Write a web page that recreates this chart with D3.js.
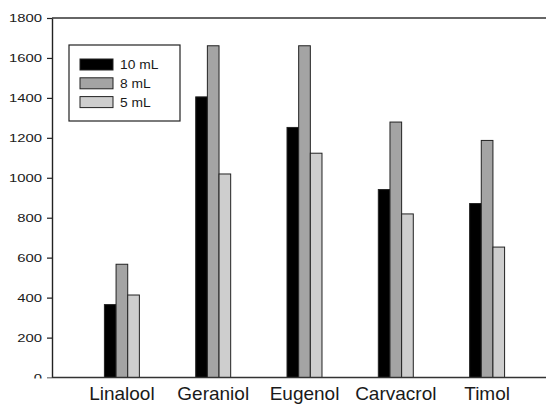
<!DOCTYPE html>
<html>
<head>
<meta charset="utf-8">
<script src="https://cdn.jsdelivr.net/npm/d3@7"></script>
<style>
  html, body { margin: 0; padding: 0; background: #fff; overflow: hidden; }
  svg { display: block; }
</style>
</head>
<body>
<div id="chartContainer"></div>
<script>
// grouped bar chart, three volumes per compound
const categories = ["Linalool", "Geraniol", "Eugenol", "Carvacrol", "Timol"];
const seriesNames = ["10 mL", "8 mL", "5 mL"];
const values10 = [365, 1405, 1252, 941, 871];
const values8 = [567, 1661, 1661, 1279, 1187];
const values5 = [413, 1019, 1123, 819, 653];
const yTicks = [0, 200, 400, 600, 800, 1000, 1200, 1400, 1600, 1800];

const seriesValues = [values10, values8, values5];
const fills = ["#000000", "#a4a4a4", "#cecece"];

const width = 546, height = 405;
const plotLeft = 52, plotTop = 18, plotBottom = 377.5, plotRight = 557;
const FONT = "'Liberation Sans', Arial, sans-serif";
const INK = "#1a1a1a";

const svg = d3.select("#chartContainer").append("svg")
    .attr("width", width)
    .attr("height", height);

const x0 = d3.scaleBand()
    .domain(categories)
    .range([plotLeft, plotRight])
    .paddingInner(0.617)
    .paddingOuter(0.574);

const x1 = d3.scaleBand()
    .domain(seriesNames)
    .range([0, x0.bandwidth()]);

const y = d3.scaleLinear()
    .domain([0, 1800])
    .range([plotBottom, plotTop]);

// frame: top line running off to the right
svg.append("line")
    .attr("x1", plotLeft).attr("x2", width)
    .attr("y1", plotTop).attr("y2", plotTop)
    .attr("stroke", "#333").attr("stroke-width", 1.4);

// bars
const rows = categories.map((c, i) => ({
    cat: c,
    vals: seriesNames.map((s, j) => ({ name: s, value: seriesValues[j][i], fill: fills[j] }))
}));

svg.append("g")
    .selectAll("g")
    .data(rows)
    .join("g")
    .attr("transform", d => `translate(${x0(d.cat)},0)`)
    .selectAll("rect")
    .data(d => d.vals)
    .join("rect")
    .attr("x", d => x1(d.name))
    .attr("width", x1.bandwidth())
    .attr("y", d => y(d.value))
    .attr("height", d => y(0) - y(d.value))
    .attr("fill", d => d.fill)
    .attr("stroke", "#222")
    .attr("stroke-width", 1);

// y axis, labels clipped at the baseline like the original
svg.append("defs").append("clipPath")
    .attr("id", "yclip")
    .append("rect")
    .attr("x", -plotLeft).attr("y", 0)
    .attr("width", plotLeft + 10).attr("height", plotBottom + 1);

const yAxis = svg.append("g")
    .attr("transform", `translate(${plotLeft},0)`)
    .attr("clip-path", "url(#yclip)")
    .call(d3.axisLeft(y).tickValues(yTicks).tickFormat(d3.format("d"))
        .tickSize(5).tickPadding(5).tickSizeOuter(0));

yAxis.select(".domain").attr("stroke", "#222").attr("stroke-width", 1.4);
yAxis.selectAll(".tick line").attr("stroke", "#222").attr("stroke-width", 1.2);
yAxis.selectAll(".tick text")
    .attr("x", -7.4)
    .attr("transform", "scale(1.35,1)")
    .style("font-family", FONT)
    .style("font-size", "11px")
    .style("fill", INK);

// x axis
const xAxis = svg.append("g")
    .attr("transform", `translate(0,${plotBottom})`)
    .call(d3.axisBottom(x0).tickSize(0).tickSizeOuter(0));

xAxis.select(".domain").attr("d", `M${plotLeft},0H${width}`)
    .attr("stroke", "#333").attr("stroke-width", 1.4);
xAxis.selectAll(".tick text")
    .attr("dy", "0")
    .attr("y", 22.5)
    .style("font-family", FONT)
    .style("font-size", "19px")
    .style("fill", INK);

// legend
const legend = svg.append("g").attr("transform", "translate(69,45)");
legend.append("rect")
    .attr("width", 111).attr("height", 76)
    .attr("fill", "#fff")
    .attr("stroke", "#222").attr("stroke-width", 1.2);

const item = legend.selectAll("g.item")
    .data(seriesNames)
    .join("g")
    .attr("class", "item")
    .attr("transform", (d, i) => `translate(11,${14 + i * 18.8})`);

item.append("rect")
    .attr("width", 33).attr("height", 11)
    .attr("fill", (d, i) => fills[i])
    .attr("stroke", "#222").attr("stroke-width", 1);

item.append("text")
    .attr("x", 40 / 1.15)
    .attr("y", 10)
    .attr("transform", "scale(1.15,1)")
    .style("font-family", FONT)
    .style("font-size", "12px")
    .style("fill", INK)
    .text(d => d);
</script>
</body>
</html>
